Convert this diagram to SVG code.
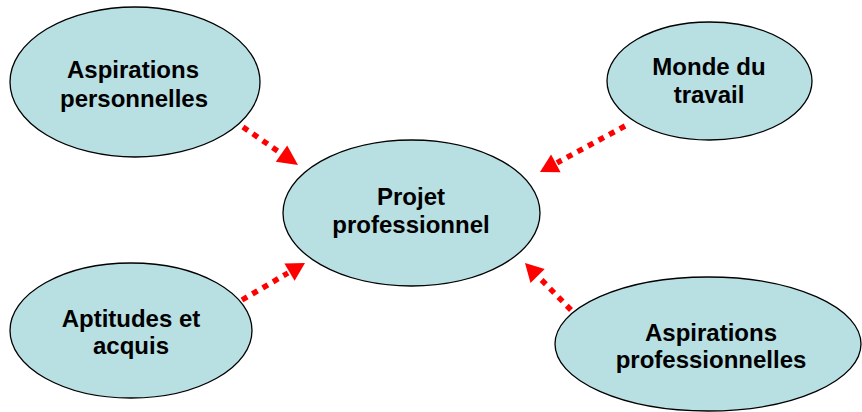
<svg xmlns="http://www.w3.org/2000/svg" width="862" height="412" viewBox="0 0 862 412">
<style>
.n{fill:#b8dfe2;stroke:#000;stroke-width:1.3}
.t{font-family:"Liberation Sans",Arial,sans-serif;font-weight:bold;font-size:24px;fill:#000;text-anchor:middle}
.c{stroke:#ff0000;stroke-width:5.5;stroke-dasharray:6 6;fill:none}
.h{fill:#ff0000;stroke:none}
</style>
<rect width="862" height="412" fill="#fff"/>
<g id="n-aspirations-personnelles">
<ellipse class="n" cx="135" cy="82" rx="125" ry="75"/>
<text class="t" x="133" y="78">Aspirations</text>
<text class="t" x="134" y="107">personnelles</text>
</g>
<g id="n-monde-du-travail">
<ellipse class="n" cx="709.5" cy="81" rx="102.5" ry="59"/>
<text class="t" x="709" y="75">Monde du</text>
<text class="t" x="709" y="103">travail</text>
</g>
<g id="n-projet-professionnel">
<ellipse class="n" cx="411.5" cy="213" rx="128.5" ry="73"/>
<text class="t" x="411" y="205">Projet</text>
<text class="t" x="411" y="233">professionnel</text>
</g>
<g id="n-aptitudes-et-acquis">
<ellipse class="n" cx="131" cy="330.5" rx="121" ry="67.5"/>
<text class="t" x="131" y="327">Aptitudes et</text>
<text class="t" x="131" y="354">acquis</text>
</g>
<g id="n-aspirations-professionnelles">
<ellipse class="n" cx="708" cy="344" rx="153" ry="67"/>
<text class="t" x="711" y="341">Aspirations</text>
<text class="t" x="711" y="368">professionnelles</text>
</g>
<g id="connectors">
<line class="c" x1="243" y1="127" x2="280" y2="152.6"/>
<polygon class="h" points="298,165 275.8,161.8 287.2,145.4"/>
<line class="c" x1="625" y1="126" x2="557" y2="162.8"/>
<polygon class="h" points="540,172 551.1,154.6 560.6,172.2"/>
<line class="c" x1="242" y1="300" x2="288" y2="273"/>
<polygon class="h" points="305,263 294.6,280.7 284.4,263.5"/>
<line class="c" x1="571" y1="310" x2="539" y2="277.3"/>
<polygon class="h" points="525,263 544.7,268.9 530.5,282.9"/>
</g>
</svg>
